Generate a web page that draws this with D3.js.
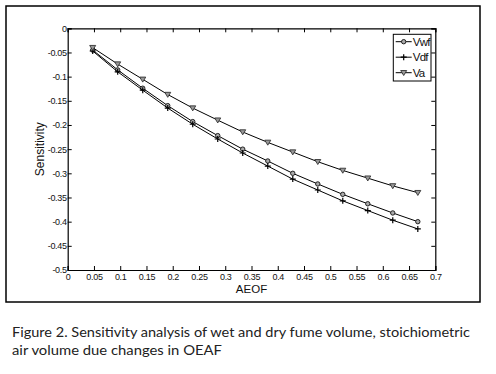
<!DOCTYPE html>
<html><head><meta charset="utf-8">
<script src="https://cdn.jsdelivr.net/npm/d3@7/dist/d3.min.js"></script>
<style>body{margin:0;background:#fff}svg{display:block}</style>
</head><body>
<svg id="c" width="496" height="374"></svg>
<script>
const aeof = [0.0476,0.0952,0.1429,0.1905,0.2381,0.2857,0.3333,0.3810,0.4286,0.4762,0.5238,0.5714,0.6190,0.6667];
const vwf = [-0.045,-0.086,-0.124,-0.160,-0.193,-0.222,-0.250,-0.2745,-0.300,-0.322,-0.3435,-0.363,-0.382,-0.400];
const vdf = [-0.047,-0.090,-0.128,-0.165,-0.1985,-0.229,-0.258,-0.285,-0.312,-0.3345,-0.357,-0.377,-0.397,-0.415];
const va  = [-0.040,-0.074,-0.1055,-0.137,-0.165,-0.190,-0.2145,-0.236,-0.256,-0.276,-0.294,-0.310,-0.326,-0.340];
const seriesNames = ["Vwf","Vdf","Va"];
const xTicks = [0,0.05,0.1,0.15,0.2,0.25,0.3,0.35,0.4,0.45,0.5,0.55,0.6,0.65,0.7];
const yTicks = [0,-0.05,-0.1,-0.15,-0.2,-0.25,-0.3,-0.35,-0.4,-0.45,-0.5];
const xLabel = "AEOF", yLabel = "Sensitivity";
const caption = ["Figure 2. Sensitivity analysis of wet and dry fume volume, stoichiometric","air volume due changes in OEAF"];

const svg = d3.select("#c");
const L=67.7, R=435.3, T=28.3, B=270;
const x = d3.scaleLinear().domain([0,0.7]).range([L,R]);
const y = d3.scaleLinear().domain([-0.5,0]).range([B,T]);
const fmt = d => d===0 ? "0" : String(+d.toFixed(2));
const font = "Liberation Sans, Arial, sans-serif";

// outer frame
svg.append("rect").attr("x",6).attr("y",6).attr("width",474).attr("height",296)
  .attr("fill","none").attr("stroke","#000").attr("stroke-width",1.5);

// axes
const gx = svg.append("g").attr("transform",`translate(0,${B})`)
  .call(d3.axisBottom(x).tickValues(xTicks).tickFormat(fmt).tickSize(-4).tickPadding(4));
const gxt = svg.append("g").attr("transform",`translate(0,${T})`)
  .call(d3.axisTop(x).tickValues(xTicks).tickFormat("").tickSize(-4));
const gy = svg.append("g").attr("transform",`translate(${L},0)`)
  .call(d3.axisLeft(y).tickValues(yTicks).tickFormat(fmt).tickSize(-4).tickPadding(1));
const gyr = svg.append("g").attr("transform",`translate(${R},0)`)
  .call(d3.axisRight(y).tickValues(yTicks).tickFormat("").tickSize(-4));
[gx,gxt,gy,gyr].forEach(g=>{
  g.select(".domain").attr("stroke","#000").attr("stroke-width",1.2);
  g.selectAll(".tick line").attr("stroke","#000");
  g.selectAll("text").attr("font-family",font).attr("font-size",9).attr("fill","#111").attr("letter-spacing",-0.3);
});

// labels
svg.append("text").attr("x",(L+R)/2).attr("y",293).attr("text-anchor","middle")
  .attr("font-family",font).attr("font-size",11.5).attr("fill","#111").text(xLabel);
svg.append("text").attr("transform",`translate(44,${(T+B)/2}) rotate(-90)`).attr("text-anchor","middle")
  .attr("font-family",font).attr("font-size",12).attr("fill","#111").text(yLabel);

// series
const data = [vwf,vdf,va];
const line = d3.line().x((d,i)=>x(aeof[i])).y(d=>y(d));
function marker(g, type){
  if(type===0){
    g.append("circle").attr("r",2.2).attr("fill","#aaa").attr("stroke","#222").attr("stroke-width",1);
  } else if(type===1){
    g.append("path").attr("d","M-3,0H3M0,-3V3").attr("stroke","#000").attr("stroke-width",1.2);
  } else {
    g.append("path").attr("d","M-3,-2.2L3,-2.2L0,2.8Z").attr("fill","#999").attr("stroke","#333").attr("stroke-width",0.9);
  }
}
data.forEach((s,si)=>{
  svg.append("path").datum(s).attr("d",line).attr("fill","none").attr("stroke","#000").attr("stroke-width",1);
  s.forEach((v,i)=>{
    const g = svg.append("g").attr("transform",`translate(${x(aeof[i])},${y(v)})`);
    marker(g,si);
  });
});

// legend
const lg = svg.append("g");
lg.append("rect").attr("x",393.3).attr("y",34.3).attr("width",37.7).attr("height",46.7)
  .attr("fill","#fff").attr("stroke","#000").attr("stroke-width",1);
seriesNames.forEach((n,i)=>{
  const yy = 41.7 + i*15.5;
  lg.append("line").attr("x1",395.7).attr("x2",411.7).attr("y1",yy).attr("y2",yy).attr("stroke","#000");
  const g = lg.append("g").attr("transform",`translate(403.7,${yy})`);
  marker(g,i);
  lg.append("text").attr("x",412.8).attr("y",yy+4).attr("font-family",font).attr("font-size",11.5)
    .attr("letter-spacing",-0.8).attr("fill","#111").text(n);
});

// caption
svg.append("text").attr("x",12).attr("y",337).attr("font-family","Lato, Noto Sans, sans-serif")
  .attr("font-size",13).attr("fill","#222").attr("textLength",458).attr("lengthAdjust","spacingAndGlyphs").text(caption[0]);
svg.append("text").attr("x",12).attr("y",355).attr("font-family","Lato, Noto Sans, sans-serif")
  .attr("font-size",13).attr("fill","#222").attr("textLength",210).attr("lengthAdjust","spacingAndGlyphs").text(caption[1]);
</script>
</body></html>
